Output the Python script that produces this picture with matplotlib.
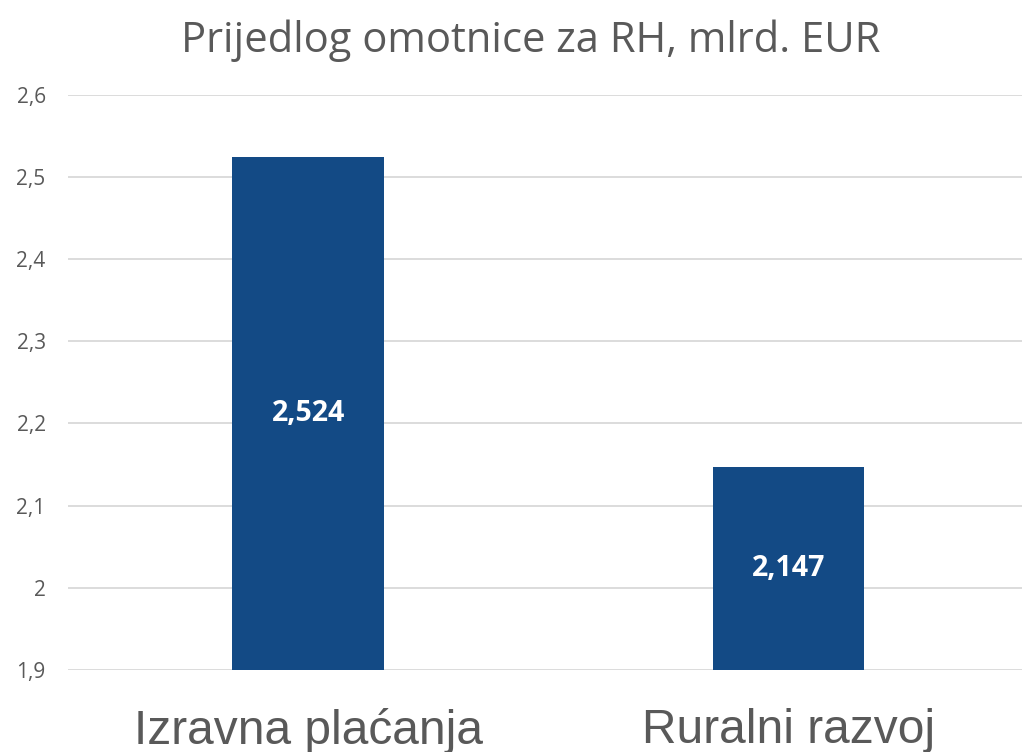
import numpy as np
import matplotlib.pyplot as plt

categories = ['Izravna plaćanja', 'Ruralni razvoj']
values = [2.524, 2.147]
yticks = [1.9, 2.0, 2.1, 2.2, 2.3, 2.4, 2.5, 2.6]
ytick_labels = ['1,9', '2', '2,1', '2,2', '2,3', '2,4', '2,5', '2,6']

grey = '#595959'
bar_color = '#134A85'

fig = plt.figure(figsize=(10.22, 7.52), dpi=100)
ax = fig.add_axes([0.0665, 0.109, 0.94, 0.765])

x = np.arange(len(categories))
bars = ax.bar(x, values, width=0.315, color=bar_color, zorder=3, bottom=0)

for b, v in zip(bars, values):
    ax.text(b.get_x() + b.get_width() / 2, (1.9 + v) / 2, f'{v:.3f}'.replace('.', ','),
            ha='center', va='center', color='white', fontsize=20.5,
            fontweight='bold', family='Open Sans', zorder=4)

ax.set_ylim(1.9, 2.6)
ax.set_xlim(-0.5, 1.5)
ax.set_yticks(yticks)
ax.set_yticklabels(ytick_labels, family='Open Sans', fontsize=15, color=grey)
ax.set_xticks(x)
ax.set_xticklabels(categories, family='Liberation Sans', fontsize=34.5, color=grey)
ax.tick_params(axis='y', length=0, pad=16)
ax.tick_params(axis='x', length=0, pad=27)
ax.grid(axis='y', color='#D9D9D9', linewidth=1.3, zorder=0)
ax.set_axisbelow(True)
for s in ax.spines.values():
    s.set_visible(False)

fig.text(0.519, 0.946, 'Prijedlog omotnice za RH, mlrd. EUR', ha='center', va='center',
         family='Open Sans', fontsize=30, color=grey)

fig.savefig('out.png', dpi=100)
